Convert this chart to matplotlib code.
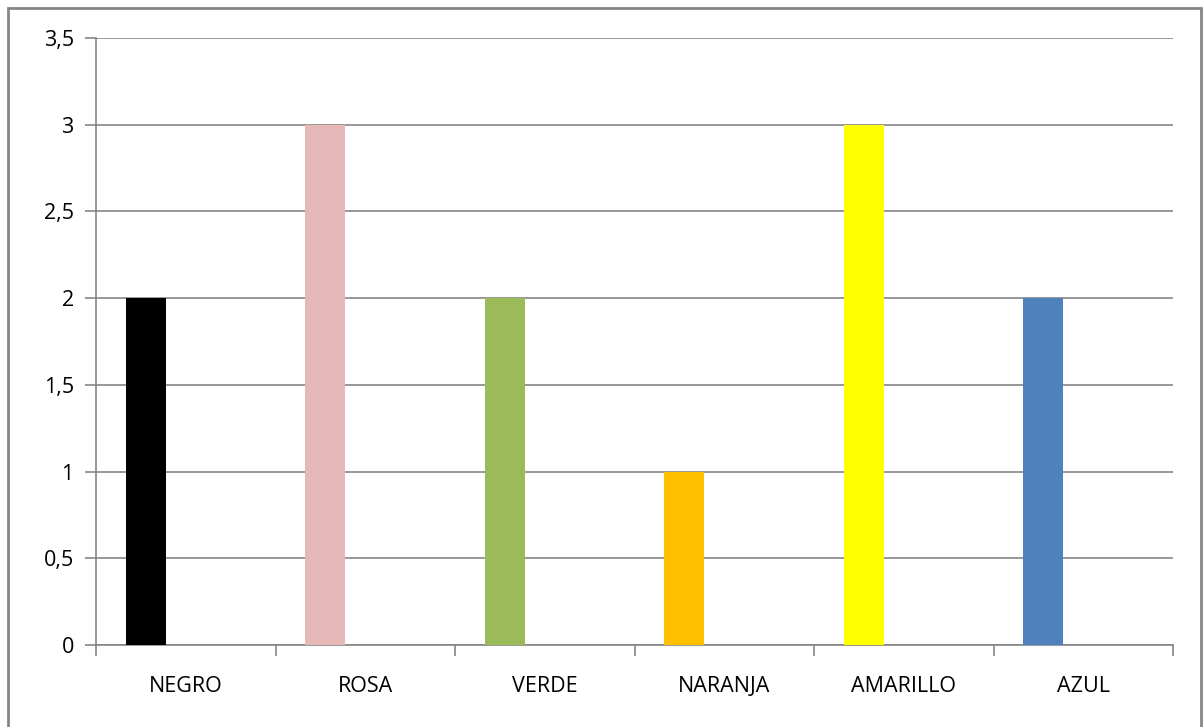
import matplotlib.pyplot as plt
from matplotlib.patches import Rectangle
import numpy as np

categories = ["NEGRO", "ROSA", "VERDE", "NARANJA", "AMARILLO", "AZUL"]
values = [2, 3, 2, 1, 3, 2]
colors = ["#000000", "#E6B8B7", "#9BBB59", "#FFC000", "#FFFF00", "#4F81BD"]
yticks = [0, 0.5, 1, 1.5, 2, 2.5, 3, 3.5]
ytick_labels = ["0", "0,5", "1", "1,5", "2", "2,5", "3", "3,5"]

plt.rcParams["font.family"] = ["Open Sans", "DejaVu Sans"]
grey = "#868686"

fig = plt.figure(figsize=(12.04, 7.27), dpi=100)
W, H = 1204, 727
ax = fig.add_axes([96 / W, (H - 645) / H, (1173 - 96) / W, (645 - 38) / H])

x = np.arange(len(categories))
ax.bar(x - 0.222, values, width=0.223, color=colors, zorder=3)

ax.set_xlim(-0.5, len(categories) - 0.5)
ax.set_ylim(0, 3.5)
ax.set_yticks(yticks)
ax.set_yticklabels(ytick_labels, fontsize=15.5)
ax.yaxis.grid(True, color=grey, linewidth=1.2, zorder=0)

ax.set_xticks(x)
ax.set_xticklabels(categories, fontsize=15.5)
ax.set_xticks(np.arange(len(categories) + 1) - 0.5, minor=True)
ax.tick_params(axis="x", which="major", length=0, pad=22)
ax.tick_params(axis="x", which="minor", length=8, width=1.2, color=grey, direction="out")
ax.tick_params(axis="y", length=8, width=1.2, color=grey, direction="out", pad=8)

for side in ["top", "right"]:
    ax.spines[side].set_visible(False)
for side in ["left", "bottom"]:
    ax.spines[side].set_color(grey)
    ax.spines[side].set_linewidth(1.2)

# outer chart border, runs off the bottom edge
fig.patches.append(Rectangle((8 / W, -10 / H), (1201 - 8) / W, (719 + 10) / H,
                             transform=fig.transFigure, fill=False,
                             edgecolor=grey, linewidth=2))

fig.savefig("out.png", dpi=100)
